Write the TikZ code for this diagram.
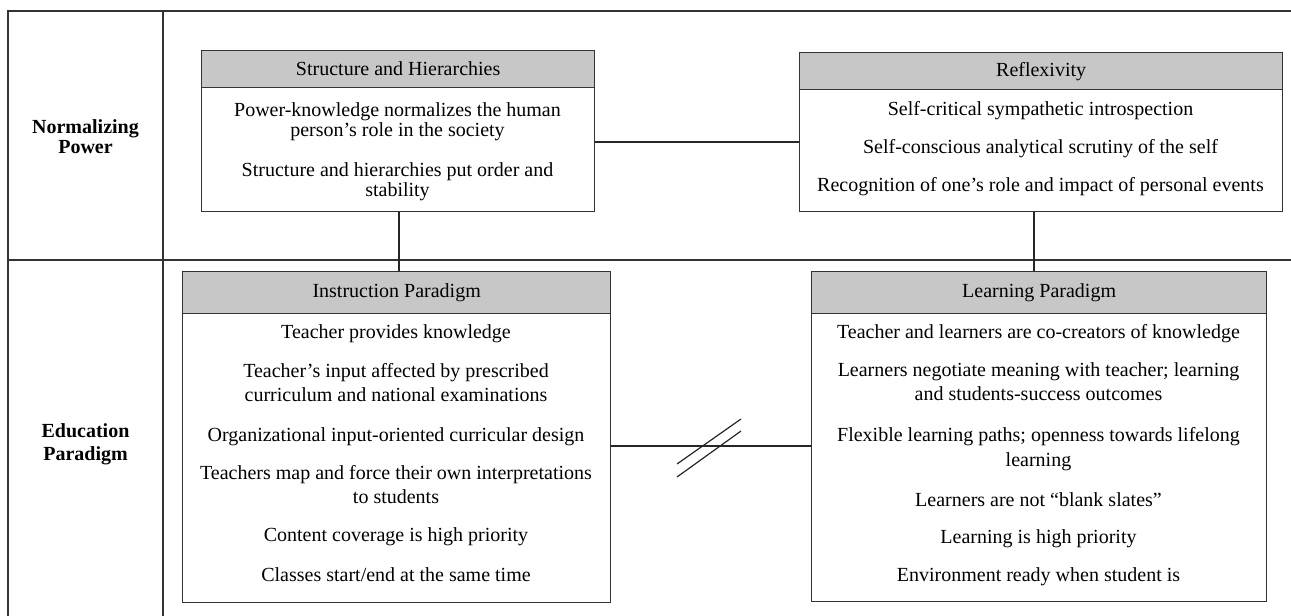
\documentclass[tikz,border=0pt]{standalone}
\usepackage{fontspec}
\setmainfont{Liberation Serif}
\begin{document}
\begin{tikzpicture}[x=1pt,y=-1pt,
  frame/.style={draw=black!80,line width=1.3pt},
  hdr/.style={draw=black!80,line width=1.3pt,fill=black!22,anchor=north west,inner sep=0pt,font=\fontsize{20}{24}\selectfont},
  boxbody/.style={draw=black!80,line width=1.3pt,anchor=north west,inner sep=0pt},
  item/.style={anchor=base,inner sep=0pt,align=center,font=\fontsize{20}{24}\selectfont},
  itemtop/.style={anchor=base,inner sep=0pt,align=center,font=\fontsize{20}{20}\selectfont},
  rowlbl/.style={anchor=base,inner sep=0pt,align=center},
  conn/.style={draw=black!85,line width=1.2pt}]

\useasboundingbox (0,0) rectangle (1291,616);

% table grid
\draw[frame] (8,616) -- (8,11) -- (1291,11);
\draw[frame] (163,11) -- (163,616);
\draw[frame] (8,260) -- (1291,260);

% row labels (base anchor = baseline of the last line)
\node[rowlbl,font=\bfseries\fontsize{20}{20}\selectfont] (np) at (85.5,153.3) {Normalizing\\Power};
\node[rowlbl,font=\bfseries\fontsize{20}{23}\selectfont] (ep) at (85.5,460) {Education\\Paradigm};

% Structure and Hierarchies
\node[hdr,minimum width=393,minimum height=37] (Sh) at (201,50) {Structure and Hierarchies};
\node[boxbody,minimum width=393,minimum height=124] (Sb) at (201,87) {};
\node[itemtop] (s1) at (397.5,136.7) {Power-knowledge normalizes the human\\person’s role in the society};
\node[itemtop] (s2) at (397.5,196.7) {Structure and hierarchies put order and\\stability};

% Reflexivity
\node[hdr,minimum width=483,minimum height=37] (Rh) at (799,52) {Reflexivity};
\node[boxbody,minimum width=483,minimum height=122] (Rb) at (799,89) {};
\node[item] (r1) at (1040.5,115) {Self-critical sympathetic introspection};
\node[item] (r2) at (1040.5,153.3) {Self-conscious analytical scrutiny of the self};
\node[item] (r3) at (1040.5,191.7) {Recognition of one’s role and impact of personal events};

% Instruction Paradigm
\node[hdr,minimum width=428,minimum height=42] (Ih) at (182,271) {Instruction Paradigm};
\node[boxbody,minimum width=428,minimum height=289] (Ib) at (182,313) {};
\node[item] (i1) at (396,338.3) {Teacher provides knowledge};
\node[item] (i2) at (396,401.7) {Teacher’s input affected by prescribed\\curriculum and national examinations};
\node[item] (i3) at (396,441.7) {Organizational input-oriented curricular design};
\node[item] (i4) at (396,503.3) {Teachers map and force their own interpretations\\to students};
\node[item] (i5) at (396,541.7) {Content coverage is high priority};
\node[item] (i6) at (396,581.7) {Classes start/end at the same time};

% Learning Paradigm
\node[hdr,minimum width=455,minimum height=42] (Lh) at (811,271) {Learning Paradigm};
\node[boxbody,minimum width=455,minimum height=288] (Lb) at (811,313) {};
\node[item] (l1) at (1038.5,338.3) {Teacher and learners are co-creators of knowledge};
\node[item] (l2) at (1038.5,400) {Learners negotiate meaning with teacher; learning\\and students-success outcomes};
\node[item,font=\fontsize{20}{25}\selectfont] (l3) at (1038.5,466.7) {Flexible learning paths; openness towards lifelong\\learning};
\node[item] (l4) at (1038.5,506.7) {Learners are not “blank slates”};
\node[item] (l5) at (1038.5,543.3) {Learning is high priority};
\node[item] (l6) at (1038.5,581.7) {Environment ready when student is};

% connectors
\draw[conn] (Sb.east |- 0,142) -- (Rb.west |- 0,142);
\draw[conn] (Sb.south -| 399,0) -- (Ih.north -| 399,0);
\draw[conn] (Rb.south -| 1034,0) -- (Lh.north -| 1034,0);
\draw[conn] (Ib.east |- 0,446) -- (Lb.west |- 0,446);
\coordinate (b1a) at (677,464); \coordinate (b1b) at (741,419);
\coordinate (b2a) at (677,477); \coordinate (b2b) at (741,431);
\draw[conn] (b1a) -- (b1b);
\draw[conn] (b2a) -- (b2b);
\end{tikzpicture}
\end{document}
